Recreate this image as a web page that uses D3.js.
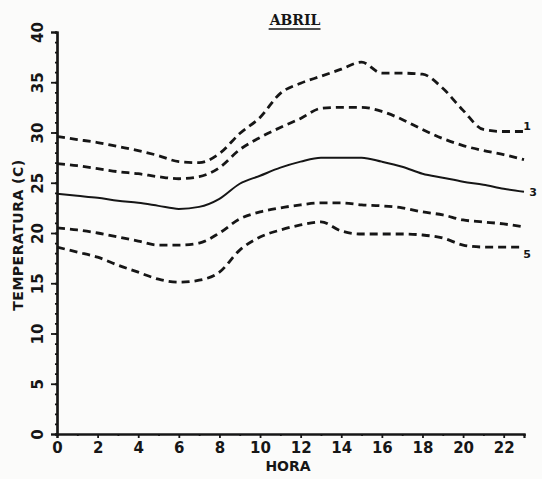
<!DOCTYPE html>
<html>
<head>
<meta charset="utf-8">
<script src="https://cdn.jsdelivr.net/npm/d3@7"></script>
<style>
  html, body { margin: 0; padding: 0; background: #fbfbfa; }
  svg { display: block; }
  text { font-weight: bold; fill: #161616; }
</style>
</head>
<body>
<svg id="chart" width="542" height="479"></svg>
<script>
// Hourly temperature curves for April (hour 0..23)
const hours = d3.range(0, 24);
const serie1 = [29.6, 29.3, 29.0, 28.6, 28.2, 27.7, 27.1, 27.0, 27.9, 29.9, 31.5, 33.9, 34.9, 35.6, 36.3, 37.0, 35.9, 35.9, 35.8, 34.4, 32.2, 30.3, 30.1, 30.1];
const serie2 = [26.9, 26.7, 26.4, 26.1, 25.9, 25.6, 25.4, 25.6, 26.5, 28.3, 29.5, 30.5, 31.4, 32.4, 32.5, 32.5, 32.1, 31.3, 30.3, 29.4, 28.7, 28.2, 27.8, 27.3];
const serie3 = [23.9, 23.7, 23.5, 23.2, 23.0, 22.7, 22.4, 22.6, 23.4, 24.9, 25.7, 26.5, 27.1, 27.5, 27.5, 27.5, 27.1, 26.6, 25.9, 25.5, 25.1, 24.8, 24.4, 24.1];
const serie4 = [20.5, 20.3, 20.0, 19.6, 19.2, 18.8, 18.8, 19.0, 20.0, 21.4, 22.1, 22.5, 22.8, 23.0, 23.0, 22.8, 22.7, 22.5, 22.1, 21.8, 21.3, 21.1, 20.9, 20.6];
const serie5 = [18.6, 18.1, 17.6, 16.8, 16.1, 15.4, 15.1, 15.3, 16.1, 18.3, 19.6, 20.3, 20.8, 21.1, 20.2, 19.9, 19.9, 19.9, 19.8, 19.5, 18.8, 18.6, 18.6, 18.6];
const seriesLabels = ["1", "", "3", "", "5"];
const xTicks = [0, 2, 4, 6, 8, 10, 12, 14, 16, 18, 20, 22];
const yTicks = [0, 5, 10, 15, 20, 25, 30, 35, 40];
const titleText = "ABRIL";
const xTitle = "HORA";
const yTitle = "TEMPERATURA (C)";

const svg = d3.select("#chart");
const ink = "#161616";
const sans = "'DejaVu Sans', 'Liberation Sans', sans-serif";

const x = d3.scaleLinear().domain([0, 23]).range([57, 524]);
const y = d3.scaleLinear().domain([0, 40]).range([434, 32]);

// Axes: minor ticks every hour / degree, labelled major ticks on top
svg.append("g").attr("transform", `translate(0,${y(0)})`)
  .call(d3.axisBottom(x).tickValues(d3.range(1, 24, 2)).tickSize(2).tickFormat(""));
const gxMajor = svg.append("g").attr("transform", `translate(0,${y(0)})`)
  .call(d3.axisBottom(x).tickValues(xTicks).tickSize(4).tickPadding(4).tickFormat(d3.format("d")));
gxMajor.selectAll(".tick text")
  .style("font-family", sans).style("font-size", "15px").attr("fill", ink);

svg.append("g").attr("transform", `translate(${x(0)},0)`)
  .call(d3.axisLeft(y).tickValues(d3.range(0, 41, 1)).tickSize(2).tickFormat(""));
const gyMajor = svg.append("g").attr("transform", `translate(${x(0)},0)`)
  .call(d3.axisLeft(y).tickValues(yTicks).tickSize(6).tickFormat(d3.format("d")));
gyMajor.selectAll(".tick text")
  .attr("x", null).attr("dy", null)
  .attr("text-anchor", "middle")
  .attr("dominant-baseline", "central")
  .attr("transform", "translate(-19,0) rotate(-90)")
  .style("font-family", sans).style("font-size", "15px").attr("fill", ink);

svg.selectAll(".domain").attr("stroke", ink).attr("stroke-width", 2.2);
svg.selectAll(".tick line").attr("stroke", ink).attr("stroke-width", 1.8);

// Curves
const allSeries = [serie1, serie2, serie3, serie4, serie5];
const line = d3.line()
  .x((d, i) => x(hours[i]))
  .y(d => y(d))
  .curve(d3.curveMonotoneX);

svg.append("g").selectAll("path")
  .data(allSeries)
  .join("path")
  .attr("d", line)
  .attr("fill", "none")
  .attr("stroke", ink)
  .attr("stroke-width", (d, i) => i === 2 ? 2 : 2.8)
  .attr("stroke-dasharray", (d, i) => i === 2 ? null : "8,5");

// Curve labels at the right end
const last = hours[hours.length - 1];
const labelOffsets = [[3, -5], [0, 0], [9, 1], [0, 0], [3, 7]];
svg.append("g").selectAll("text")
  .data(allSeries.map((s, i) => ({ v: s[s.length - 1], t: seriesLabels[i], o: labelOffsets[i] })).filter(d => d.t))
  .join("text")
  .attr("x", d => x(last) + d.o[0])
  .attr("y", d => y(d.v) + d.o[1])
  .attr("dominant-baseline", "central")
  .attr("text-anchor", "middle")
  .style("font-family", sans)
  .style("font-size", "11px")
  .text(d => d.t);

// Title with underline
const title = svg.append("text")
  .attr("x", 295).attr("y", 25)
  .attr("text-anchor", "middle")
  .style("font-family", "'DejaVu Serif', serif")
  .style("font-size", "14px")
  .text(titleText);
const tb = title.node().getBBox();
svg.append("line")
  .attr("x1", tb.x).attr("x2", tb.x + tb.width)
  .attr("y1", 29).attr("y2", 29)
  .attr("stroke", ink).attr("stroke-width", 1.6);

// Axis titles
svg.append("text")
  .attr("x", 288).attr("y", 471)
  .attr("text-anchor", "middle")
  .style("font-family", sans)
  .style("font-size", "14px")
  .text(xTitle);

svg.append("text")
  .attr("transform", "translate(18,235) rotate(-90)")
  .attr("text-anchor", "middle")
  .attr("dominant-baseline", "central")
  .style("font-family", sans)
  .style("font-size", "14px")
  .style("letter-spacing", "0.5px")
  .text(yTitle);
</script>
</body>
</html>
